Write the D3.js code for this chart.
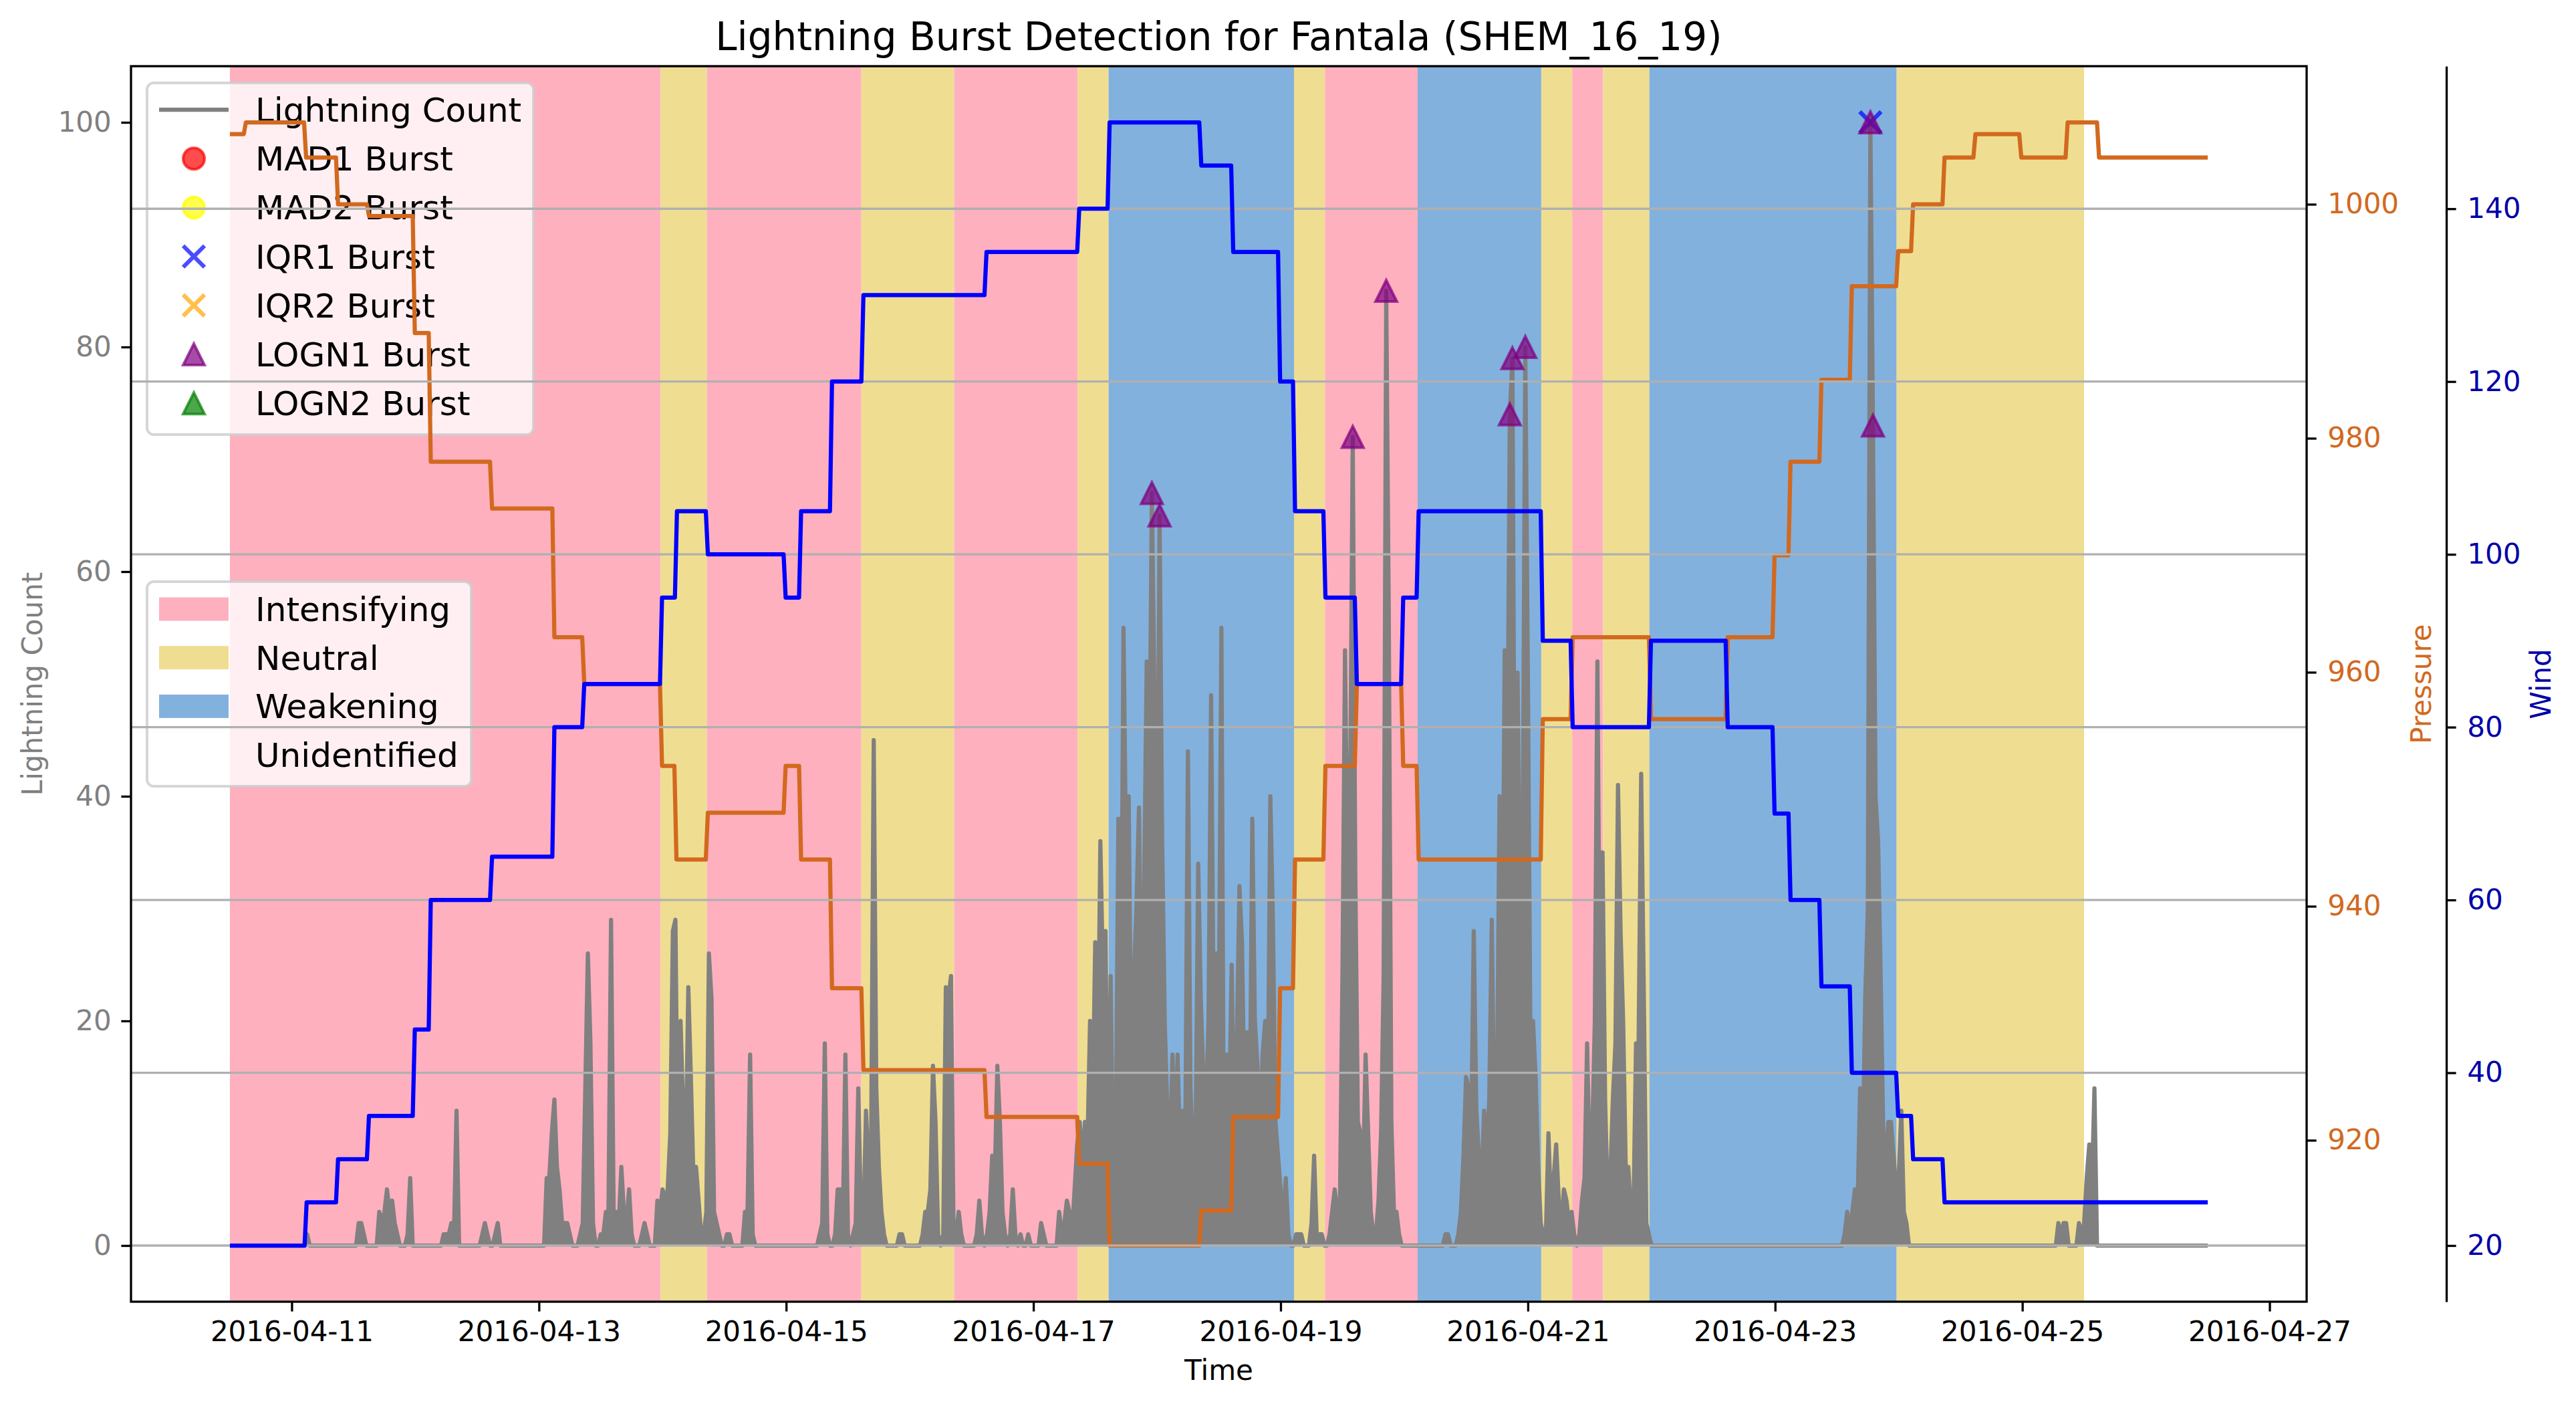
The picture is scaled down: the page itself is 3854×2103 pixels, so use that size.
<!DOCTYPE html>
<html>
<head>
<meta charset="utf-8">
<script src="https://cdn.jsdelivr.net/npm/d3@7"></script>
<style>
  body { margin: 0; background: #fff; }
  text { font-family: "DejaVu Sans", sans-serif; }
</style>
</head>
<body>
<svg id="chart" width="3854" height="2103"></svg>
<script>
// hours are counted from 2016-04-10 12:00 UTC
const T0 = Date.UTC(2016, 3, 10, 12);
const END_H = 384;

// lightning count, [hour, count]; every other half hour is 0
const lightning = [
  [15,1],
  [25,2],[25.5,2],[26,1],
  [29,3],[29.5,2],[30,3],[30.5,5],[31,3],[31.5,4],[32,2],[32.5,1],
  [34.5,1],[35,6],
  [41.5,1],[42,1],[42.5,1],[43,2],[43.5,1],[44,12],
  [49,1],[49.5,2],[50,1],[51.5,1],[52,2],
  [61.5,6],[62,6],[62.5,10],[63,13],[63.5,7],[64,5],[64.5,2],[65,2],[65.5,2],[66,1],
  [68,1],[68.5,2],[69,14],[69.5,26],[70,18],[70.5,2],
  [72,1],[72.5,1],[73,3],[73.5,3],[74,29],[74.5,3],
  [75,3],[75.5,2],[76,7],[76.5,3],[77,2],[77.5,5],[78,1],
  [80,1],[80.5,2],[81,1],
  [83,4],[83.5,3],[84,5],[84.5,4],[85,5],[85.5,10],[86,28],[86.5,29],[87,6],[87.5,20],
  [88,12],[88.5,8],[89,23],[89.5,15],[90,6],[90.5,7],[91,4],[91.5,1],[92,1],
  [92.5,3],[93,26],[93.5,22],[94,3],[94.5,2],[95,1],
  [96.5,1],[97,1],
  [100,3],[100.5,3],[101,17],[101.5,1],
  [114.5,1],[115,2],[115.5,18],[116,1],
  [117.5,1],[118,5],[118.5,5],[119,2],[119.5,17],[120,1],
  [121,1],[121.5,2],[122,14],[122.5,3],[123,2],[123.5,12],[124,7],[124.5,9],[125,45],
  [125.5,14],[126,7],[126.5,3],[127,1],
  [130,1],[130.5,1],
  [134.5,1],[135,3],[135.5,3],[136,5],[136.5,16],[137,11],[137.5,1],
  [138.5,1],[139,23],[139.5,22],[140,24],[140.5,1],
  [141,1],[141.5,3],[142,1],
  [145,1],[145.5,4],[146,1],
  [147,1],[147.5,3],[148,8],[148.5,6],[149,16],[149.5,11],[150,3],[150.5,1],
  [151.5,1],[152,5],[152.5,1],[153.5,1],[155,1],
  [157.5,2],[158,1],
  [161,3],[161.5,1],[162,2],[162.5,4],[163,3],[163.5,1],
  [164,5],[164.5,9],[165,11],[165.5,7],[166,11],[166.5,9],[167,20],[167.5,12],[168,27],
  [168.5,15],[169,36],[169.5,24],[170,28],[170.5,5],[171,24],[171.5,5],[172,10],[172.5,38],
  [173,20],[173.5,55],[174,34],[174.5,40],[175,16],[175.5,24],[176,30],[176.5,39],[177,18],
  [177.5,32],[178,52],[178.5,40],[179,67],[179.5,49],[180,30],[180.5,65],[181,36],[181.5,20],
  [182,12],[182.5,8],[183,17],[183.5,8],[184,17],[184.5,8],[185,12],[185.5,10],[186,44],
  [186.5,14],[187,8],[187.5,10],[188,34],[188.5,22],[189,15],[189.5,12],[190,20],[190.5,49],
  [191,20],[191.5,26],[192,20],[192.5,55],[193,5],[193.5,17],[194,12],[194.5,25],[195,10],
  [195.5,18],[196,32],[196.5,27],[197,12],[197.5,19],[198,10],[198.5,38],[199,20],[199.5,16],
  [200,10],[200.5,17],[201,20],[201.5,12],[202,40],[202.5,29],[203,11],[203.5,8],[204,5],
  [204.5,2],[205,6],[205.5,1],
  [207,1],[207.5,1],[208,1],
  [210,2],[210.5,8],[211,1],[211.5,1],[212,1],
  [213.5,1],[214,3],[214.5,5],[215,3],[215.5,3],[216,24],[216.5,53],[217,33],[217.5,40],
  [218,72],[218.5,33],[219,11],[219.5,10],[220,6],[220.5,17],[221,10],[221.5,3],[222,1],
  [222.5,1],[223,4],[223.5,10],[224,24],[224.5,85],[225,56],[225.5,11],[226,3],[226.5,3],[227,1],
  [236,1],[236.5,1],
  [238.5,1],[239,3],[239.5,8],[240,15],[240.5,14],[241,10],[241.5,28],[242,12],[242.5,8],
  [243,5],[243.5,12],[244,8],[244.5,13],[245,29],[245.5,10],[246,13],[246.5,40],[247,20],
  [247.5,53],[248,40],[248.5,74],[249,79],[249.5,30],[250,51],[250.5,28],[251,35],[251.5,80],
  [252,51],[252.5,18],[253,20],[253.5,15],[254,7],[254.5,2],[255,1],
  [255.5,1],[256,10],[256.5,3],[257,6],[257.5,9],[258,4],[258.5,2],[259,5],[259.5,4],
  [260,2],[260.5,3],[261,1],
  [262,1],[262.5,4],[263,6],[263.5,18],[264,7],[264.5,10],[265,20],[265.5,52],[266,20],
  [266.5,35],[267,13],[267.5,4],[268,6],[268.5,13],[269,18],[269.5,41],[270,28],[270.5,20],
  [271,7],[271.5,7],[272,3],[272.5,3],[273,18],[273.5,18],[274,42],[274.5,23],[275,2],[275.5,1],
  [313.5,1],[314,3],[314.5,1],[315,3],[315.5,5],[316,3],[316.5,14],[317,8],[317.5,22],
  [318,30],[318.5,100],[319,73],[319.5,40],[320,36],[320.5,24],[321,10],[321.5,8],[322,11],
  [322.5,11],[323,8],[323.5,5],[324,6],[324.5,12],[325,3],[325.5,2],
  [355,2],[355.5,1],[356,2],[356.5,2],[359,2],[359.5,1],[360,2],[360.5,6],[361,9],
  [361.5,5],[362,14]
];

// pressure (hPa) and wind (kt): [hour the value starts, value]
const pressureSteps = [
  [0,1006],[2.7,1007],[14.4,1004],[20.6,1000],[26.6,999],[35.5,989],[38.6,978],[50.5,974],
  [62.6,963],[68.4,959],[83.5,952],[86.3,944],[92.4,948],[107.5,952],[110.5,944],[116.5,933],
  [122.6,926],[146.5,922],[164.5,918],[170.4,911],[188.2,914],[194.4,922],[203.5,933],
  [206.4,944],[212.3,952],[218.4,959],[227.4,952],[230.4,944],[254.5,956],[260.3,963],
  [275.5,956],[290.4,963],[299.5,970],[302.6,978],[308.6,985],[314.5,993],[323.5,996],
  [326.4,1000],[332.5,1004],[338.5,1006],[347.4,1004],[356.4,1007],[362.5,1004]
];
const windSteps = [
  [0,20],[14.5,25],[20.6,30],[26.6,35],[35.5,45],[38.6,60],[50.5,65],[62.6,80],[68.4,85],
  [83.5,95],[86.4,105],[92.4,100],[107.5,95],[110.5,105],[116.5,120],[122.6,130],[146.5,135],
  [164.5,140],[170.4,150],[188.2,145],[194.4,135],[203.5,120],[206.4,105],[212.3,95],
  [218.4,85],[227.4,95],[230.4,105],[254.5,90],[260.3,80],[275.5,90],[290.4,80],[299.5,70],
  [302.6,60],[308.6,50],[314.5,40],[323.5,35],[326.4,30],[332.5,25]
];

// storm phase background
const phaseStarts = [0, 83.6, 92.6, 122.6, 140.6, 164.6, 170.6, 206.6, 212.6, 230.6,
  254.6, 260.6, 266.6, 275.6, 323.6, 360];
const phaseNames = ["Intensifying","Neutral","Intensifying","Neutral","Intensifying","Neutral",
  "Weakening","Neutral","Intensifying","Weakening","Neutral","Intensifying","Neutral",
  "Weakening","Neutral","Unidentified"];
const phaseCategories = ["Intensifying", "Neutral", "Weakening", "Unidentified"];

// burst detections [hour, count]
const mad1Bursts = [];
const mad2Bursts = [];
const iqr1Bursts = [[318.5,100]];
const iqr2Bursts = [];
const logn1Bursts = [[179,67],[180.5,65],[218,72],[224.5,85],[248.5,74],[249,79],[251.5,80],[318.5,100],[319,73]];
const logn2Bursts = [];

const countTicks = [0, 20, 40, 60, 80, 100];
const pressureTicks = [920, 940, 960, 980, 1000];
const windTicks = [20, 40, 60, 80, 100, 120, 140];

// ---------------------------------------------------------------
const phaseColor = {Intensifying: "#ffb0bf", Neutral: "#efde91", Weakening: "#82b1de", Unidentified: "#ffffff"};
const ORANGE = "#d2691e", DARKBLUE = "#0000a8";
const LW = 6.25, THIN = 3.3, TICK = 14.6;

const svg = d3.select("#chart");
const pL = 196, pR = 3451, pT = 99, pB = 1947;
const windSpineX = 3660;

const toDate = h => new Date(T0 + h * 3600e3);
const pad = ([a, b]) => [a - (b - a) * 0.05, b + (b - a) * 0.05];

const x = d3.scaleUtc().domain(pad([0, END_H]).map(toDate)).range([pL, pR]);
const yCount = d3.scaleLinear().domain(pad([0, d3.max(lightning, d => d[1])])).range([pB, pT]);
const yPres = d3.scaleLinear().domain(pad(d3.extent(pressureSteps, d => d[1]))).range([pB, pT]);
const yWind = d3.scaleLinear().domain(pad(d3.extent(windSteps, d => d[1]))).range([pB, pT]);

svg.append("defs").append("clipPath").attr("id", "plot")
  .append("rect").attr("x", pL).attr("y", pT).attr("width", pR - pL).attr("height", pB - pT);

// phase spans
const phaseSpans = phaseStarts.map((s, i) => ({
  s, e: i + 1 < phaseStarts.length ? phaseStarts[i + 1] : END_H, name: phaseNames[i]
}));
svg.append("g").selectAll("rect").data(phaseSpans).enter().append("rect")
  .attr("x", d => x(toDate(d.s)))
  .attr("width", d => x(toDate(d.e)) - x(toDate(d.s)))
  .attr("y", pT).attr("height", pB - pT)
  .attr("fill", d => phaseColor[d.name]);

// lightning count (dense 10-min-like bursts read as a filled trace)
const lookup = new Map(lightning);
const lightningSeries = d3.range(0, END_H + 0.25, 0.5).map(h => [h, lookup.get(h) || 0]);
svg.append("path")
  .attr("clip-path", "url(#plot)")
  .attr("d", d3.area().x(d => x(toDate(d[0]))).y0(yCount(0)).y1(d => yCount(d[1]))(lightningSeries))
  .attr("fill", "#808080");
svg.append("path")
  .attr("clip-path", "url(#plot)")
  .attr("d", d3.line().x(d => x(toDate(d[0]))).y(d => yCount(d[1]))(lightningSeries))
  .attr("fill", "none").attr("stroke", "#808080").attr("stroke-width", LW)
  .attr("stroke-linejoin", "round");

// marker shapes
const S = 32;
function drawMarker(g, kind, color) {
  if (kind === "circle") {
    g.append("circle").attr("r", S / 2)
      .attr("fill", color).attr("fill-opacity", 0.7)
      .attr("stroke", color).attr("stroke-opacity", 0.7).attr("stroke-width", 4);
  } else if (kind === "x") {
    g.append("path").attr("d", `M${-S/2},${-S/2}L${S/2},${S/2}M${-S/2},${S/2}L${S/2},${-S/2}`)
      .attr("stroke", color).attr("stroke-opacity", 0.7).attr("stroke-width", LW).attr("fill", "none");
  } else {
    g.append("path").attr("d", `M0,${-S/2}L${S/2},${S/2}L${-S/2},${S/2}Z`)
      .attr("fill", color).attr("fill-opacity", 0.7)
      .attr("stroke", color).attr("stroke-opacity", 0.7).attr("stroke-width", 4)
      .attr("stroke-linejoin", "miter");
  }
}

const burstSets = [
  {label: "MAD1 Burst", data: mad1Bursts, kind: "circle", color: "#ff0000"},
  {label: "MAD2 Burst", data: mad2Bursts, kind: "circle", color: "#ffff00"},
  {label: "IQR1 Burst", data: iqr1Bursts, kind: "x", color: "#0000ff"},
  {label: "IQR2 Burst", data: iqr2Bursts, kind: "x", color: "#ffa500"},
  {label: "LOGN1 Burst", data: logn1Bursts, kind: "tri", color: "#800080"},
  {label: "LOGN2 Burst", data: logn2Bursts, kind: "tri", color: "#008000"}
];
burstSets.forEach(b => {
  svg.append("g").selectAll("g").data(b.data).enter().append("g")
    .attr("transform", d => `translate(${x(toDate(d[0]))},${yCount(d[1])})`)
    .each(function () { drawMarker(d3.select(this), b.kind, b.color); });
});

// legends
function legendBox(bx, by, bw, bh) {
  svg.append("rect").attr("x", bx).attr("y", by).attr("width", bw).attr("height", bh)
    .attr("rx", 10).attr("fill", "#fff").attr("fill-opacity", 0.8)
    .attr("stroke", "#cccccc").attr("stroke-opacity", 0.8).attr("stroke-width", 4);
}
const ROW = 73.2;
legendBox(220, 124, 578, 526);
const leg1 = svg.append("g");
const leg1Rows = [{label: "Lightning Count"}].concat(burstSets);
leg1Rows.forEach((r, i) => {
  const cy = 164 + i * ROW;
  if (!r.kind) {
    leg1.append("line").attr("x1", 238).attr("x2", 342).attr("y1", cy).attr("y2", cy)
      .attr("stroke", "#808080").attr("stroke-width", LW);
  } else {
    const g = leg1.append("g").attr("transform", `translate(290,${cy})`);
    drawMarker(g, r.kind, r.color);
  }
  leg1.append("text").attr("x", 382).attr("y", cy).attr("dy", "0.36em")
    .attr("font-size", 50).text(r.label);
});

legendBox(220, 870, 485, 306);
const leg2 = svg.append("g");
phaseCategories.forEach((c, i) => {
  const cy = 911 + i * 72.7;
  leg2.append("rect").attr("x", 238).attr("y", cy - 17.5).attr("width", 104).attr("height", 35)
    .attr("fill", phaseColor[c]);
  leg2.append("text").attr("x", 382).attr("y", cy).attr("dy", "0.36em")
    .attr("font-size", 50).text(c);
});

// step lines for pressure and wind
const RAMP = 0.4;
function stepPoints(steps) {
  const pts = [];
  steps.forEach(([h, v], i) => {
    pts.push([i === 0 ? h : h + RAMP, v]);
    pts.push([i + 1 < steps.length ? steps[i + 1][0] : END_H, v]);
  });
  return pts;
}
svg.append("path")
  .attr("d", d3.line().x(d => x(toDate(d[0]))).y(d => yPres(d[1]))(stepPoints(pressureSteps)))
  .attr("fill", "none").attr("stroke", ORANGE).attr("stroke-width", LW).attr("stroke-linejoin", "round");

// grid from the wind axis
svg.append("g").selectAll("line").data(windTicks).enter().append("line")
  .attr("x1", pL).attr("x2", pR)
  .attr("y1", d => yWind(d)).attr("y2", d => yWind(d))
  .attr("stroke", "#b0b0b0").attr("stroke-width", THIN);

svg.append("path")
  .attr("d", d3.line().x(d => x(toDate(d[0]))).y(d => yWind(d[1]))(stepPoints(windSteps)))
  .attr("fill", "none").attr("stroke", "#0000ff").attr("stroke-width", LW).attr("stroke-linejoin", "round");

// frame
svg.append("rect").attr("x", pL).attr("y", pT).attr("width", pR - pL).attr("height", pB - pT)
  .attr("fill", "none").attr("stroke", "#000").attr("stroke-width", THIN);

function styleAxis(g, color) {
  g.selectAll(".tick line").attr("stroke", "#000").attr("stroke-width", THIN);
  g.selectAll(".tick text").attr("font-size", 42).attr("fill", color)
    .style("font-family", '"DejaVu Sans", sans-serif');
}

const xTicks = d3.utcDay.every(2).range(toDate(0), toDate(END_H + 30));
const gx = svg.append("g").attr("transform", `translate(0,${pB})`)
  .call(d3.axisBottom(x).tickValues(xTicks).tickFormat(d3.utcFormat("%Y-%m-%d"))
    .tickSize(TICK).tickPadding(TICK).tickSizeOuter(0));
gx.select(".domain").remove();
styleAxis(gx, "#000");

const gy = svg.append("g").attr("transform", `translate(${pL},0)`)
  .call(d3.axisLeft(yCount).tickValues(countTicks).tickFormat(d3.format("d"))
    .tickSize(TICK).tickPadding(TICK).tickSizeOuter(0));
gy.select(".domain").remove();
styleAxis(gy, "#808080");

const gp = svg.append("g").attr("transform", `translate(${pR},0)`)
  .call(d3.axisRight(yPres).tickValues(pressureTicks).tickFormat(d3.format("d"))
    .tickSize(TICK).tickPadding(TICK + 2).tickSizeOuter(0));
gp.select(".domain").remove();
styleAxis(gp, ORANGE);

const gw = svg.append("g").attr("transform", `translate(${windSpineX},0)`)
  .call(d3.axisRight(yWind).tickValues(windTicks).tickFormat(d3.format("d"))
    .tickSize(TICK).tickPadding(TICK + 2).tickSizeOuter(0));
gw.select(".domain").attr("stroke", "#000").attr("stroke-width", THIN);
styleAxis(gw, DARKBLUE);

// titles and axis labels
svg.append("text").attr("x", (pL + pR) / 2).attr("y", 75).attr("text-anchor", "middle")
  .attr("font-size", 58).text("Lightning Burst Detection for Fantala (SHEM_16_19)");
svg.append("text").attr("x", (pL + pR) / 2).attr("y", 2064).attr("text-anchor", "middle")
  .attr("font-size", 42).text("Time");

function yLabel(cx, label, color) {
  svg.append("text").attr("transform", `translate(${cx},${(pT + pB) / 2}) rotate(-90)`)
    .attr("text-anchor", "middle").attr("dy", "0.36em")
    .attr("font-size", 42).attr("fill", color).text(label);
}
yLabel(48, "Lightning Count", "#808080");
yLabel(3622, "Pressure", ORANGE);
yLabel(3801, "Wind", DARKBLUE);
</script>
</body>
</html>
